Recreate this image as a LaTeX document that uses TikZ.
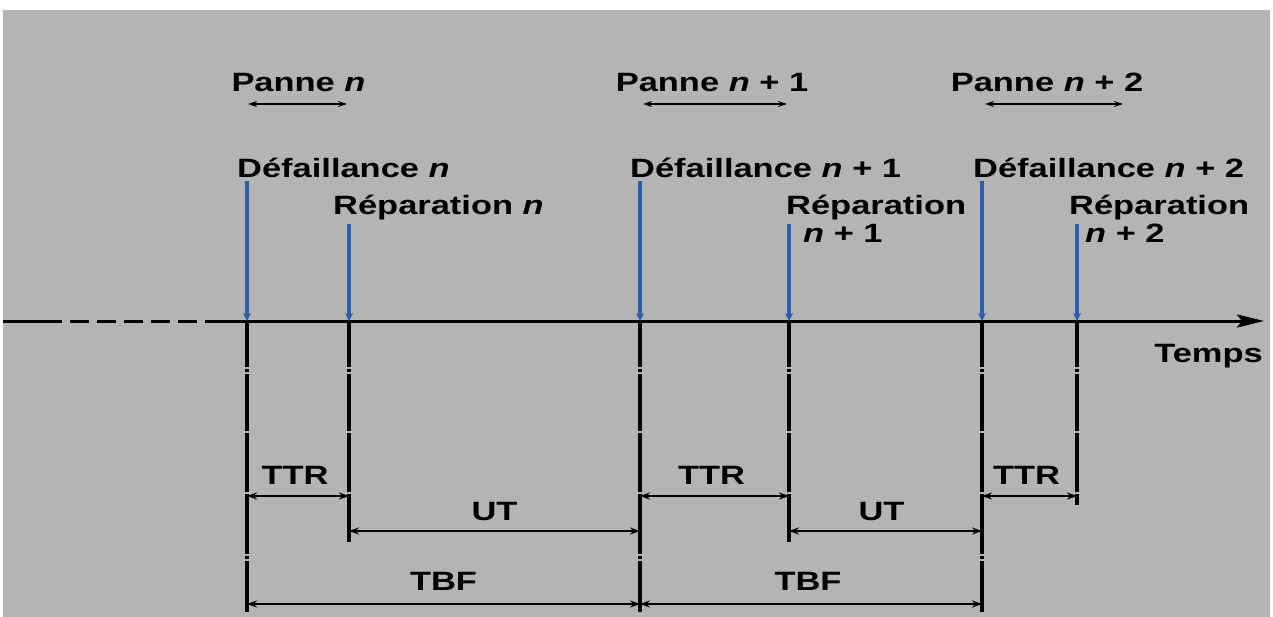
\documentclass[tikz,border=0pt]{standalone}
\usepackage{fontspec}
\setmainfont{Liberation Sans}[FakeStretch=1.3]
\usetikzlibrary{arrows.meta}
\definecolor{panel}{RGB}{180,180,180}
\definecolor{evblue}{RGB}{40,95,175}
\tikzset{
  lbl/.style={inner sep=0pt, font=\fontsize{26.5}{30}\selectfont\bfseries},
  axisline/.style={line width=3pt},
  eventline/.style={line width=3.4pt,
    dash pattern=on 46pt off 2pt on 3pt off 2pt on 57pt off 2pt on 59pt off 2pt on 60pt off 2pt on 3pt off 2pt on 100pt off 0pt},
  evarrow/.style={evblue, line width=3.2pt, -{Stealth[length=8pt,width=8pt]}, shorten <=3pt},
  dim/.style={line width=2.2pt, {Stealth[length=10pt,width=7pt]}-{Stealth[length=10pt,width=7pt]}},
  span/.style={line width=1.9pt, {Stealth[length=9pt,width=6pt]}-{Stealth[length=9pt,width=6pt]}},
}
\newcommand{\nn}{{\itshape n}}
\begin{document}
\begin{tikzpicture}[x=1pt,y=-1pt]
  % canvas
  \fill[white] (0,0) rectangle (1273,617);
  \fill[panel] (3,10) rectangle (1270,617);
  \useasboundingbox (0,0) rectangle (1273,617);

  % events on the time axis
  \coordinate (d1) at (247,321);
  \coordinate (r1) at (349,321);
  \coordinate (d2) at (640,321);
  \coordinate (r2) at (789,321);
  \coordinate (d3) at (982,321);
  \coordinate (r3) at (1077,321);

  % levels of the measurement lines
  \coordinate (yTTR) at (0,496);
  \coordinate (yUT)  at (0,531);
  \coordinate (yTBF) at (0,604);
  \coordinate (yLow) at (0,612);
  \coordinate (yMid) at (0,542);
  \coordinate (yEnd) at (0,505);

  % time axis
  \coordinate (t0) at (3,321);
  \coordinate (tA) at (43,321);
  \coordinate (tB) at (222,321);
  \coordinate (tE) at (1264,321);
  \draw[axisline] (t0) -- (tA);
  \draw[axisline, dash pattern=on 19pt off 8pt] (tA) -- (tB);
  \draw[axisline, -{Stealth[length=27pt,width=13pt,inset=5pt]}] (tB) -- (tE);
  \node[lbl, anchor=base east] (temps) at (1263,362) {Temps};

  % labels of failures and repairs
  \node[lbl, anchor=base west] (lD1) at (237,178) {Défaillance \nn};
  \node[lbl, anchor=base west] (lR1) at (333,215) {Réparation \nn};
  \node[lbl, anchor=base west] (lD2) at (630,178) {Défaillance \nn{} + 1};
  \node[lbl, anchor=base west] (lR2) at (786,215) {Réparation};
  \node[lbl, anchor=base west] (lR2b) at (803,243) {\nn{} + 1};
  \node[lbl, anchor=base west] (lD3) at (973,178) {Défaillance \nn{} + 2};
  \node[lbl, anchor=base west] (lR3) at (1069,215) {Réparation};
  \node[lbl, anchor=base west] (lR3b) at (1085,243) {\nn{} + 2};

  % event arrows
  \draw[evarrow] (d1 |- lD1.south) -- (d1);
  \draw[evarrow] (r1 |- lR1.south) -- (r1);
  \draw[evarrow] (d2 |- lD2.south) -- (d2);
  \draw[evarrow] (r2 |- lR2.south) -- (r2);
  \draw[evarrow] (d3 |- lD3.south) -- (d3);
  \draw[evarrow] (r3 |- lR3.south) -- (r3);

  % breakdown spans
  \coordinate (p1a) at (248,104); \coordinate (p1b) at (347,104);
  \coordinate (p2a) at (643,104); \coordinate (p2b) at (787,104);
  \coordinate (p3a) at (985,104); \coordinate (p3b) at (1123,104);
  \draw[span] (p1a) -- node[lbl, above=11pt, xshift=1pt] (pn1) {Panne \nn} (p1b);
  \draw[span] (p2a) -- node[lbl, above=11pt, xshift=-3pt] (pn2) {Panne \nn{} + 1} (p2b);
  \draw[span] (p3a) -- node[lbl, above=11pt, xshift=-7pt] (pn3) {Panne \nn{} + 2} (p3b);

  % extension lines below the axis
  \draw[eventline] (d1) -- (d1 |- yLow);
  \draw[eventline] (r1) -- (r1 |- yMid);
  \draw[eventline] (d2) -- (d2 |- yLow);
  \draw[eventline] (r2) -- (r2 |- yMid);
  \draw[eventline] (d3) -- (d3 |- yLow);
  \draw[eventline] (r3) -- (r3 |- yEnd);

  % durations
  \draw[dim] (d1 |- yTTR) -- node[lbl, above=10pt, xshift=-3pt] (ttr1) {TTR} (r1 |- yTTR);
  \draw[dim] (d2 |- yTTR) -- node[lbl, above=10pt, xshift=-3pt] (ttr2) {TTR} (r2 |- yTTR);
  \draw[dim] (d3 |- yTTR) -- node[lbl, above=10pt, xshift=-3pt] (ttr3) {TTR} (r3 |- yTTR);
  \draw[dim] (r1 |- yUT) -- node[lbl, above=9pt] (ut1) {UT} (d2 |- yUT);
  \draw[dim] (r2 |- yUT) -- node[lbl, above=9pt, xshift=-4pt] (ut2) {UT} (d3 |- yUT);
  \draw[dim] (d1 |- yTBF) -- node[lbl, above=12pt] (tbf1) {TBF} (d2 |- yTBF);
  \draw[dim] (d2 |- yTBF) -- node[lbl, above=12pt, xshift=-3pt] (tbf2) {TBF} (d3 |- yTBF);
\end{tikzpicture}
\end{document}
